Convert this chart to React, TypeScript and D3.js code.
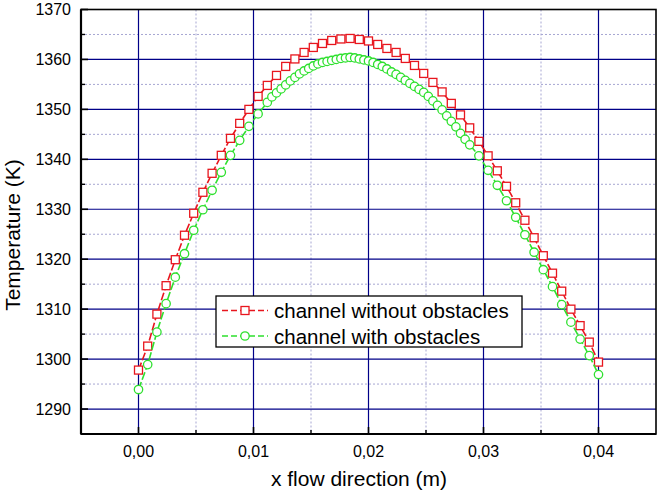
import React from "react";
import { scaleLinear, line as d3Line, format as d3Format } from "d3";

// channel without obstacles (uniform 0.0008 m mesh)
const redX = [
  0, 0.0008, 0.0016, 0.0024, 0.0032, 0.004, 0.0048, 0.0056, 0.0064, 0.0072,
  0.008, 0.0088, 0.0096, 0.0104, 0.0112, 0.012, 0.0128, 0.0136, 0.0144, 0.0152,
  0.016, 0.0168, 0.0176, 0.0184, 0.0192, 0.02, 0.0208, 0.0216, 0.0224, 0.0232,
  0.024, 0.0248, 0.0256, 0.0264, 0.0272, 0.028, 0.0288, 0.0296, 0.0304, 0.0312,
  0.032, 0.0328, 0.0336, 0.0344, 0.0352, 0.036, 0.0368, 0.0376, 0.0384, 0.0392,
  0.04,
];
const redT = [
  1297.8, 1302.6, 1309.0, 1314.7, 1319.9, 1324.8, 1329.2, 1333.4, 1337.2, 1340.8,
  1344.2, 1347.2, 1350.0, 1352.6, 1354.8, 1356.8, 1358.6, 1360.1, 1361.4, 1362.4,
  1363.2, 1363.8, 1364.1, 1364.2, 1364.0, 1363.7, 1363.0, 1362.2, 1361.4, 1360.2,
  1358.8, 1357.2, 1355.4, 1353.5, 1351.2, 1348.9, 1346.3, 1343.6, 1340.7, 1337.7,
  1334.6, 1331.3, 1327.8, 1324.3, 1320.7, 1317.2, 1313.6, 1310.0, 1306.7, 1303.4,
  1299.4,
];

// channel with obstacles (finer mesh in the middle)
const greenX = [
  0, 0.0008, 0.0016, 0.0024, 0.0032, 0.004, 0.0048, 0.0056, 0.0064, 0.0072,
  0.008, 0.0088, 0.0096, 0.0104, 0.0112,
  0.0116, 0.012, 0.0124, 0.0128, 0.0132, 0.0136, 0.014, 0.0144, 0.0148, 0.0152,
  0.0156, 0.016, 0.0164, 0.0168, 0.0172, 0.0176, 0.018, 0.0184, 0.0188, 0.0192,
  0.0196, 0.02, 0.0204, 0.0208, 0.0212, 0.0216, 0.022, 0.0224, 0.0228, 0.0232,
  0.0236, 0.024, 0.0244, 0.0248, 0.0252, 0.0256, 0.026, 0.0264, 0.0268, 0.0272,
  0.0276, 0.028, 0.0284, 0.0288,
  0.0296, 0.0304, 0.0312, 0.032, 0.0328, 0.0336, 0.0344, 0.0352, 0.036, 0.0368,
  0.0376, 0.0384, 0.0392, 0.04,
];
const greenT = [
  1293.9, 1298.9, 1305.4, 1311.1, 1316.4, 1321.1, 1325.8, 1329.9, 1333.8, 1337.4,
  1340.8, 1343.8, 1346.6, 1349.1, 1351.4,
  1352.5, 1353.3, 1354.1, 1354.9, 1355.7, 1356.4, 1357.1, 1357.7, 1358.2, 1358.7,
  1359.1, 1359.4, 1359.6, 1359.8, 1360.0, 1360.2, 1360.3, 1360.4, 1360.3, 1360.1,
  1359.9, 1359.7, 1359.4, 1359.0, 1358.6, 1358.1, 1357.5, 1357.0, 1356.4, 1355.8,
  1355.2, 1354.6, 1354.0, 1353.4, 1352.6, 1351.7, 1350.8, 1349.9, 1348.7, 1347.6,
  1346.5, 1345.2, 1344.0, 1342.9,
  1340.7, 1337.8, 1334.8, 1331.7, 1328.4, 1324.9, 1321.4, 1317.9, 1314.5, 1310.9,
  1307.4, 1304.0, 1300.7, 1296.9,
];

const xTicks = [0, 0.01, 0.02, 0.03, 0.04];
const xMinor = [0.005, 0.015, 0.025, 0.035];
const yTicks = [1290, 1300, 1310, 1320, 1330, 1340, 1350, 1360, 1370];
const yMinor = [1295, 1305, 1315, 1325, 1335, 1345, 1355, 1365];

const seriesNames = ["channel without obstacles", "channel with obstacles"];

const RED = "#e8161e";
const GREEN = "#2ee02e";
const NAVY = "#000088";
const MINOR = "#a6a6d2";
const FONT = "'Liberation Sans', Arial, sans-serif";

export default function App() {
  const W = 660;
  const H = 492;
  const x = scaleLinear().domain([-0.005, 0.045]).range([81, 656]);
  const y = scaleLinear().domain([1285, 1370]).range([434, 9.5]);
  const [x0, x1] = x.range();
  const [y0, y1] = y.range();

  const fmt = (v: number) => d3Format(".2f")(v).replace(".", ",");

  const redPts = redX.map((d, i) => [d, redT[i]] as [number, number]);
  const greenPts = greenX.map((d, i) => [d, greenT[i]] as [number, number]);
  const path = d3Line<[number, number]>()
    .x((d) => x(d[0]))
    .y((d) => y(d[1]));

  const sq = 8;
  const cr = 4.2;

  return (
    <svg
      width={W}
      height={H}
      style={{ position: "absolute", left: 0, top: 0, background: "#fff" }}
      fontFamily={FONT}
    >
      {/* minor grid */}
      {xMinor.map((t) => (
        <line key={"xm" + t} x1={x(t)} x2={x(t)} y1={y1} y2={y0} stroke={MINOR} strokeDasharray="2,2" />
      ))}
      {yMinor.map((t) => (
        <line key={"ym" + t} x1={x0} x2={x1} y1={y(t)} y2={y(t)} stroke={MINOR} strokeDasharray="2,2" />
      ))}
      {/* major grid */}
      {xTicks.map((t) => (
        <line key={"xg" + t} x1={x(t)} x2={x(t)} y1={y1} y2={y0} stroke={NAVY} strokeWidth={1.2} />
      ))}
      {yTicks.slice(0, -1).map((t) => (
        <line key={"yg" + t} x1={x0} x2={x1} y1={y(t)} y2={y(t)} stroke={NAVY} strokeWidth={1.2} />
      ))}

      {/* frame */}
      <rect x={x0} y={y1} width={x1 - x0} height={y0 - y1} fill="none" stroke="#000" strokeWidth={1.6} />
      <line x1={x0} x2={x0} y1={y1} y2={y0} stroke="#000" strokeWidth={2.2} />
      <line x1={x0} x2={x1} y1={y0} y2={y0} stroke="#000" strokeWidth={2.2} />

      {/* ticks */}
      {xTicks.map((t) => (
        <line key={"xt" + t} x1={x(t)} x2={x(t)} y1={y0} y2={y0 - 7} stroke="#000" strokeWidth={1.6} />
      ))}
      {xMinor.map((t) => (
        <line key={"xtm" + t} x1={x(t)} x2={x(t)} y1={y0} y2={y0 - 4} stroke="#000" strokeWidth={1.4} />
      ))}
      {yTicks.map((t) => (
        <line key={"yt" + t} x1={x0} x2={x0 + 7} y1={y(t)} y2={y(t)} stroke="#000" strokeWidth={1.6} />
      ))}
      {yMinor.map((t) => (
        <line key={"ytm" + t} x1={x0} x2={x0 + 4} y1={y(t)} y2={y(t)} stroke="#000" strokeWidth={1.4} />
      ))}

      {/* tick labels */}
      {xTicks.map((t) => (
        <text key={"xl" + t} x={x(t)} y={457} fontSize={16} textAnchor="middle" fill="#000">
          {fmt(t)}
        </text>
      ))}
      {yTicks.map((t) => (
        <text key={"yl" + t} x={71} y={y(t) + 5.5} fontSize={16} textAnchor="end" fill="#000">
          {t}
        </text>
      ))}

      {/* axis titles */}
      <text x={359} y={486} fontSize={21} textAnchor="middle" fill="#000">
        x flow direction (m)
      </text>
      <text transform="translate(20,235) rotate(-90)" fontSize={21} textAnchor="middle" fill="#000">
        Temperature (K)
      </text>

      {/* series: red */}
      <path d={path(redPts) ?? ""} fill="none" stroke={RED} strokeWidth={1.6} strokeDasharray="8,2.5" />
      {redPts.map((d, i) => (
        <rect
          key={"r" + i}
          x={x(d[0]) - sq / 2}
          y={y(d[1]) - sq / 2}
          width={sq}
          height={sq}
          fill="#fff"
          stroke={RED}
          strokeWidth={1.3}
        />
      ))}

      {/* series: green */}
      <path d={path(greenPts) ?? ""} fill="none" stroke={GREEN} strokeWidth={1.6} strokeDasharray="8,2.5" />
      {greenPts.map((d, i) => (
        <circle key={"g" + i} cx={x(d[0])} cy={y(d[1])} r={cr} fill="#fff" stroke={GREEN} strokeWidth={1.3} />
      ))}

      {/* legend */}
      <rect x={216} y={296} width={306} height={51} fill="#fff" stroke="#000" strokeWidth={1.3} />
      {seriesNames.map((name, i) => {
        const ly = 310.5 + i * 25.5;
        const color = i === 0 ? RED : GREEN;
        return (
          <g key={name}>
            <line x1={222} x2={268} y1={ly} y2={ly} stroke={color} strokeWidth={1.6} strokeDasharray="6,3" />
            {i === 0 ? (
              <rect x={245 - sq / 2} y={ly - sq / 2} width={sq} height={sq} fill="#fff" stroke={color} strokeWidth={1.3} />
            ) : (
              <circle cx={245} cy={ly} r={cr} fill="#fff" stroke={color} strokeWidth={1.3} />
            )}
            <text x={274} y={ly + 7.5} fontSize={20.5} fill="#000">
              {name}
            </text>
          </g>
        );
      })}
    </svg>
  );
}
